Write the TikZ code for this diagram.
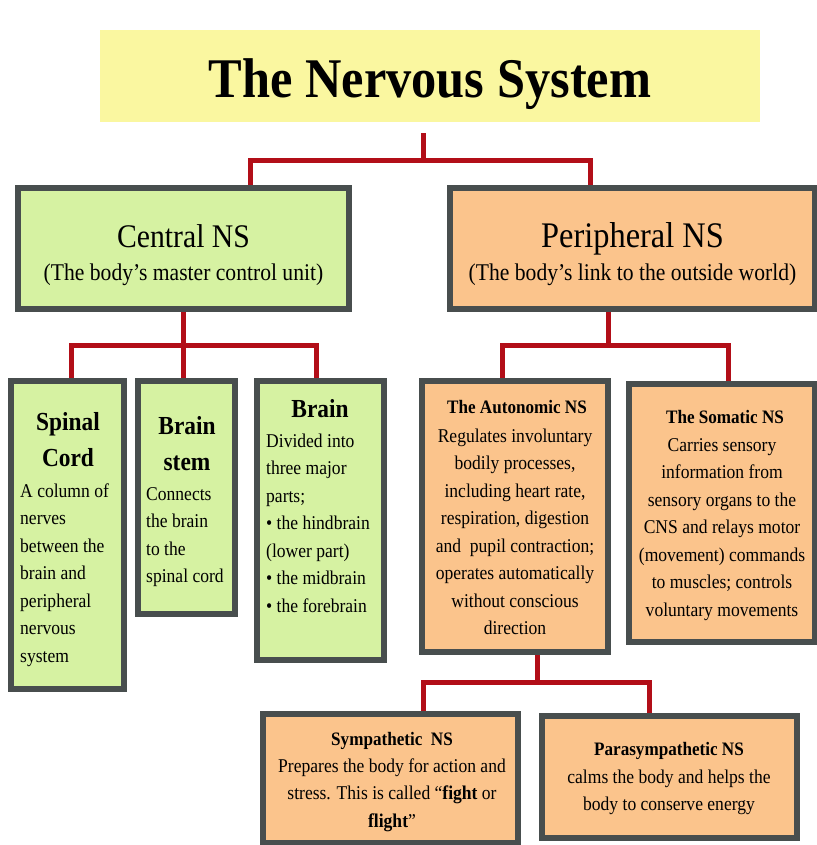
\documentclass[tikz,border=0pt]{standalone}
\usepackage{fontspec}
\setmainfont{Liberation Serif}[FakeStretch=0.9]
\usetikzlibrary{backgrounds}
\definecolor{nsred}{RGB}{178,14,24}
\definecolor{nsgray}{RGB}{72,78,78}
\definecolor{nsgreen}{RGB}{214,242,162}
\definecolor{nsorange}{RGB}{251,196,140}
\definecolor{nsyellow}{RGB}{250,247,160}
\tikzset{
  link/.style={draw=nsred,line width=5pt},
  nsbox/.style={draw=nsgray,line width=6pt,inner sep=0pt,outer sep=0pt},
  cnsbox/.style={nsbox,fill=nsgreen},
  pnsbox/.style={nsbox,fill=nsorange},
  toptext/.style={align=center,text height=68pt,text depth=5pt,font=\fontsize{24}{33}\selectfont},
  bighead/.style={anchor=base,align=center,inner sep=0pt,font=\bfseries\fontsize{26}{36}\selectfont},
  smallhead/.style={anchor=base,align=center,inner sep=0pt,font=\bfseries\fontsize{19}{27}\selectfont},
  lefttext/.style={anchor=base west,align=left,inner sep=0pt,font=\fontsize{19.5}{27.5}\selectfont},
  midtext/.style={anchor=base,align=center,inner sep=0pt,font=\fontsize{19.5}{27.5}\selectfont},
}
\begin{document}
\begin{tikzpicture}[x=1pt,y=-1pt]
  \useasboundingbox (0,0) rectangle (816,845);
  \node[fill=nsyellow,minimum width=660pt,minimum height=92pt,text height=44pt,text depth=0pt,font=\bfseries\fontsize{56}{60}\selectfont] (title) at (430,76) {The Nervous System};
  \node[cnsbox,toptext,minimum width=331pt,minimum height=121pt] (cns) at (183.5,248.5) {{\fontsize{33}{33}\selectfont Central NS}\\(The body’s master control unit)};
  \node[pnsbox,toptext,minimum width=365pt,minimum height=121pt] (pns) at (632.5,248.5) {{\fontsize{36}{33}\selectfont Peripheral NS}\\(The body’s link to the outside world)};

  \node[cnsbox,minimum width=113pt,minimum height=308pt] (spinal) at (67.5,535) {};
  \node[cnsbox,minimum width=97pt,minimum height=233pt] (stem) at (186.5,497.5) {};
  \node[cnsbox,minimum width=127pt,minimum height=279pt] (brain) at (320.5,520.5) {};
  \node[pnsbox,minimum width=186pt,minimum height=271pt] (auto) at (515,516.5) {};
  \node[pnsbox,minimum width=186pt,minimum height=258pt] (soma) at (722,513) {};
  \node[pnsbox,minimum width=255pt,minimum height=129pt] (symp) at (390.5,778.5) {};
  \node[pnsbox,minimum width=255pt,minimum height=122pt] (para) at (669.5,777) {};

  \node[bighead] (spinalhead) at (68,466) {Spinal\\Cord};
  \node[lefttext] (spinaltext) at (20,662) {A column of\\nerves\\between the\\brain and\\peripheral\\nervous\\system};
  \node[bighead] (stemhead) at (187,470) {Brain\\stem};
  \node[lefttext] (stemtext) at (146,582.5) {Connects\\the brain\\to the\\spinal cord};
  \node[bighead] (brainhead) at (320,417) {Brain};
  \node[lefttext] (braintext) at (266,612) {Divided into\\three major\\parts;\\• the hindbrain\\(lower part)\\• the midbrain\\• the forebrain};
  \node[smallhead] (autohead) at (517,413) {The Autonomic NS};
  \node[midtext] (autotext) at (515,634.5) {Regulates involuntary\\bodily processes,\\including heart rate,\\respiration, digestion\\and~ pupil contraction;\\operates automatically\\without conscious\\direction};
  \node[smallhead] (somahead) at (725,423) {The Somatic NS};
  \node[midtext] (somatext) at (722,616) {Carries sensory\\information from\\sensory organs to the\\CNS and relays motor\\(movement) commands\\to muscles; controls\\voluntary movements};
  \node[smallhead] (symphead) at (392,745) {Sympathetic~ NS};
  \node[midtext] (symptext) at (392,827) {Prepares the body for action and\\stress. This is called “\textbf{fight} or\\\textbf{flight}”};
  \node[smallhead] (parahead) at (669,755) {Parasympathetic NS};
  \node[midtext] (paratext) at (669,810.5) {calms the body and helps the\\body to conserve energy};

  \begin{scope}[on background layer]
    \draw[link] ([xshift=-7pt,yshift=-11pt]title.south) -- ++(0,27) coordinate (tj);
    \draw[link] ([xshift=66.5pt]cns.north) |- (tj) -| ([xshift=-42.5pt]pns.north);
    \draw[link] (cns.south) -- ++(0,36) coordinate (cj);
    \draw[link] ([xshift=3.5pt]spinal.north) |- (cj) -| ([xshift=-4.5pt]brain.north);
    \draw[link] (cj) -- (cj |- stem.north);
    \draw[link] ([xshift=-24.5pt]pns.south) -- ++(0,36) coordinate (pj);
    \draw[link] ([xshift=-13pt]auto.north) |- (pj) -| ([xshift=6pt]soma.north);
    \draw[link] ([xshift=22pt]auto.south) -- ++(0,30) coordinate (aj);
    \draw[link] ([xshift=32.5pt]symp.north) |- (aj) -| ([xshift=-20.5pt]para.north);
  \end{scope}
\end{tikzpicture}
\end{document}
